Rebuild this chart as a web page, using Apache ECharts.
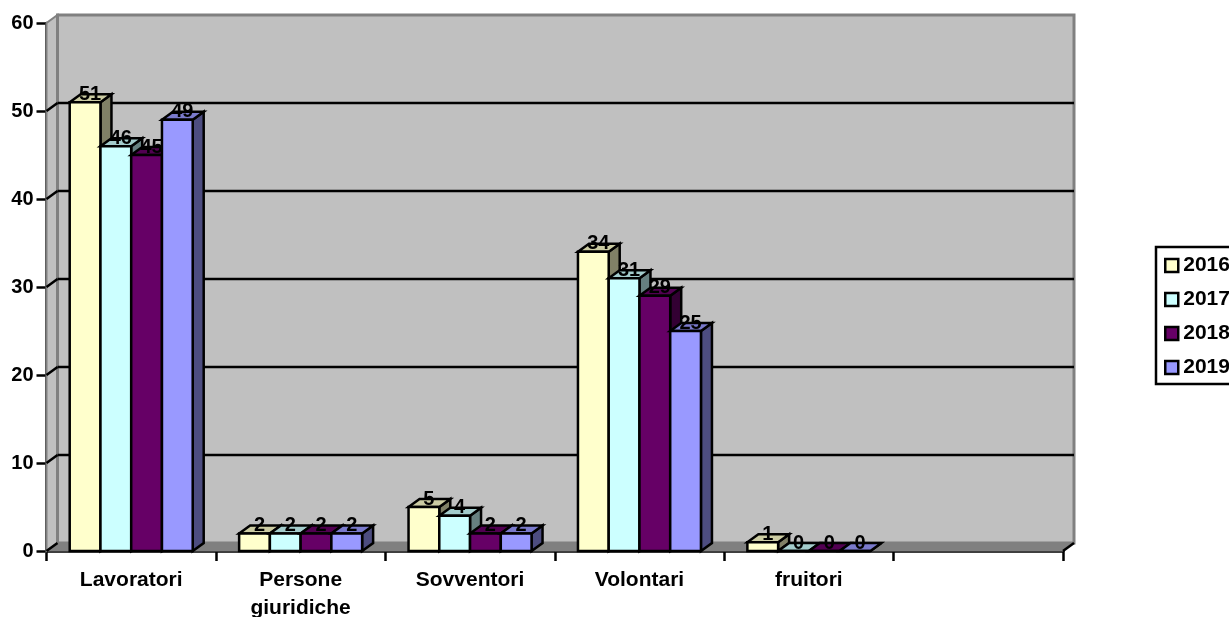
<!DOCTYPE html>
<html>
<head>
<meta charset="utf-8">
<style>html,body{margin:0;padding:0;background:#fff;overflow:hidden}#c{width:1229px;height:617px}</style>
<script src="https://cdn.jsdelivr.net/npm/echarts@6/dist/echarts.min.js"></script>
</head>
<body>
<div id="c"></div>
<script>
const categories = ['Lavoratori', 'Persone\ngiuridiche', 'Sovventori', 'Volontari', 'fruitori', ''];
const yTicks = [0, 10, 20, 30, 40, 50, 60];
const s2016 = [51, 2, 5, 34, 1];
const s2017 = [46, 2, 4, 31, 0];
const s2018 = [45, 2, 2, 29, 0];
const s2019 = [49, 2, 2, 25, 0];
const seriesNames = ['2016', '2017', '2018', '2019'];
const seriesValues = [s2016, s2017, s2018, s2019];
const faceColors = ['#FFFFCC', '#CCFFFF', '#660066', '#9999FF'];
const topColors = ['#CCCCA3', '#A3CCCC', '#520052', '#7A7ACC'];
const sideColors = ['#808066', '#668080', '#330033', '#4D4D80'];

const DX = 11, DY = 8, FAMILY = '"Liberation Sans", Arial, sans-serif';
const FONT = 'bold 20px ' + FAMILY;
const BAR_FRAC = 0.1815, LW = 2.5;

function poly(points, fill, stroke, lw) {
  return { type: 'polygon', shape: { points }, style: { fill, stroke, lineWidth: lw, lineJoin: 'miter' } };
}
function seg(x1, y1, x2, y2, stroke, lw) {
  return { type: 'line', shape: { x1, y1, x2, y2 }, style: { stroke, lineWidth: lw, fill: null } };
}

function renderWalls(params, api) {
  const c = params.coordSys;
  const L = c.x, R = c.x + c.width, T = c.y, B = c.y + c.height;
  const kids = [
    poly([[L, B], [L, T], [L + DX, T - DY], [L + DX, B - DY]], '#C0C0C0', '#808080', 2),
    poly([[L + DX, T - DY], [R + DX, T - DY], [R + DX, B - DY], [L + DX, B - DY]], '#C0C0C0', '#808080', 3),
    poly([[L, B], [R, B], [R + DX, B - DY], [L + DX, B - DY]], '#808080', '#808080', 1)
  ];
  yTicks.forEach(v => {
    const y = api.coord([0, v])[1];
    if (v > 0 && v < 60) kids.push(seg(L + DX, y - DY, R + DX, y - DY, '#000', LW));
    if (v < 60) kids.push(seg(L, y, L + DX, y - DY, '#000', LW));
  });
  kids.push(seg(R, B, R + DX, B - DY, '#000', LW));
  return { type: 'group', children: kids };
}

function makeBar(k) {
  return function (params, api) {
    const idx = api.value(0), v = api.value(1);
    const top = api.coord([idx, v]), base = api.coord([idx, 0]);
    const w = api.size([1, 0])[0] * BAR_FRAC;
    const x0 = top[0] + (k - 2) * w, x1 = x0 + w, y0 = top[1], y1 = base[1];
    return {
      type: 'group',
      children: [
        poly([[x1, y1], [x1, y0], [x1 + DX, y0 - DY], [x1 + DX, y1 - DY]], sideColors[k], '#000', LW),
        poly([[x0, y0], [x1, y0], [x1 + DX, y0 - DY], [x0 + DX, y0 - DY]], topColors[k], '#000', LW),
        poly([[x0, y0], [x1, y0], [x1, y1], [x0, y1]], faceColors[k], '#000', LW)
      ]
    };
  };
}

function makeLabel(k) {
  return function (params, api) {
    const idx = api.value(0), v = api.value(1);
    const top = api.coord([idx, v]);
    const w = api.size([1, 0])[0] * BAR_FRAC;
    return {
      type: 'text',
      style: {
        text: String(v), x: top[0] + (k - 1.5) * w + 5, y: top[1] - 8,
        font: FONT, fill: '#000', align: 'center', verticalAlign: 'middle'
      }
    };
  };
}

const series = [{
  type: 'custom', name: 'walls', silent: true, z: 1, clip: false,
  data: [[0, 0]], encode: { x: 0, y: 1 }, renderItem: renderWalls
}];
seriesNames.forEach((name, k) => {
  series.push({
    type: 'custom', name, z: 3 + k, clip: false, silent: true,
    itemStyle: { color: faceColors[k] },
    encode: { x: 0, y: 1 },
    data: seriesValues[k].map((v, i) => [i, v]),
    renderItem: makeBar(k)
  });
});
seriesNames.forEach((name, k) => {
  series.push({
    type: 'custom', name: 'label' + name, z: 10, clip: false, silent: true,
    encode: { x: 0, y: 1 },
    data: seriesValues[k].map((v, i) => [i, v]),
    renderItem: makeLabel(k)
  });
});

const chart = echarts.init(document.getElementById('c'), null, { renderer: 'canvas', width: 1229, height: 617 });
chart.setOption({
  animation: false,
  backgroundColor: '#fff',
  grid: { left: 46.5, top: 23, width: 1016.5, height: 528, containLabel: false, outerBoundsMode: 'none' },
  xAxis: {
    type: 'category', data: categories,
    boundaryGap: true,
    axisLine: { show: true, lineStyle: { color: '#000', width: 2.5 } },
    axisTick: { show: true, length: 10, alignWithLabel: false, lineStyle: { color: '#000', width: 2.5 } },
    axisLabel: { color: '#000', fontFamily: FAMILY, fontWeight: 'bold', fontSize: 21, lineHeight: 28, margin: 15, interval: 0, hideOverlap: false },
    splitLine: { show: false }
  },
  yAxis: {
    type: 'value', min: 0, max: 60, interval: 10,
    axisLine: { show: true, lineStyle: { color: '#000', width: 2.5 } },
    axisTick: { show: true, length: 10, lineStyle: { color: '#000', width: 2.5 } },
    axisLabel: { color: '#000', fontFamily: FAMILY, fontWeight: 'bold', fontSize: 20, margin: 13 },
    splitLine: { show: false }
  },
  legend: {
    orient: 'vertical', left: 1156, top: 247, padding: [8, 8, 6, 8],
    borderColor: '#000', borderWidth: 2.5, backgroundColor: '#fff',
    itemWidth: 13, itemHeight: 13, itemGap: 13, selectedMode: false,
    icon: 'rect',
    textStyle: { color: '#000', fontFamily: FAMILY, fontWeight: 'bold', fontSize: 21, height: 19, lineHeight: 19 },
    data: seriesNames.map((name, k) => ({
      name, icon: 'rect',
      itemStyle: { color: faceColors[k], borderColor: '#000', borderWidth: 2.5 }
    }))
  },
  series
});
</script>
</body>
</html>
